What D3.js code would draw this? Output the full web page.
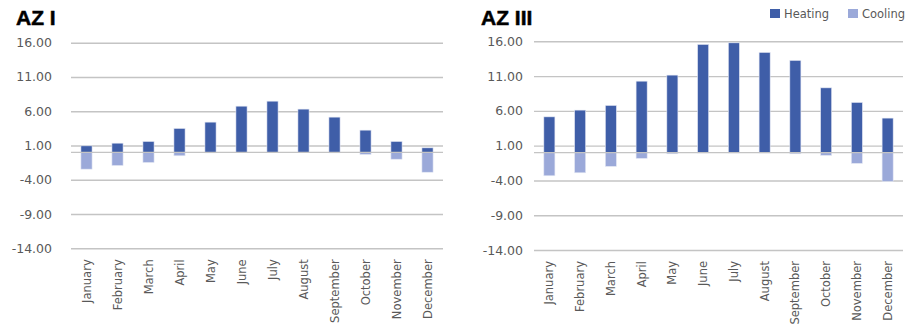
<!DOCTYPE html>
<html>
<head>
<meta charset="utf-8">
<script src="https://cdn.jsdelivr.net/npm/d3@7"></script>
<style>
  html, body { margin: 0; padding: 0; background: #fff; }
  svg { display: block; }
</style>
</head>
<body>
<svg id="chart" width="913" height="325"></svg>
<script>
// Monthly heating (positive) and cooling (negative) loads for two zones
const months = ["January", "February", "March", "April", "May", "June",
                "July", "August", "September", "October", "November", "December"];

const az1Heating = [0.95, 1.34, 1.59, 3.49, 4.41, 6.74, 7.47, 6.31, 5.14, 3.24, 1.59, 0.66];
const az1Cooling = [-2.45, -1.92, -1.48, -0.5, -0.08, -0.05, -0.05, -0.05, -0.08, -0.31, -1.0, -2.9];

const az3Heating = [5.14, 6.11, 6.78, 10.27, 11.14, 15.55, 15.78, 14.4, 13.25, 9.31, 7.21, 4.96];
const az3Cooling = [-3.33, -2.9, -1.98, -0.83, -0.17, -0.05, -0.05, -0.05, -0.17, -0.4, -1.55, -4.14];

const yTicks = [16, 11, 6, 1, -4, -9, -14];
const yDomain = [-14, 16];

const seriesNames = ["Heating", "Cooling"];
const colors = { Heating: "#3F5EA8", Cooling: "#9BA9D9" };

const textColor = "#595959";
const gridColor = "#C4C4C4";
const fontFamily = "'DejaVu Sans', Verdana, sans-serif";

// two-decimal labels with a plain hyphen for negatives
const tickFormat = d3.formatLocale({ decimal: ".", thousands: ",", grouping: [3], currency: ["", ""], minus: "-" }).format(".2f");

const svg = d3.select("#chart");

const panels = [
  { title: "AZ I", heating: az1Heating, cooling: az1Cooling,
    x0: 71, x1: 443, yTop: 42.7, yBottom: 248.3, labelX: 52, titleX: 16 },
  { title: "AZ III", heating: az3Heating, cooling: az3Cooling,
    x0: 534, x1: 903, yTop: 41.3, yBottom: 250, labelX: 523, titleX: 481 }
];

panels.forEach(p => {
  const g = svg.append("g");

  const x = d3.scaleBand().domain(months).range([p.x0, p.x1]).paddingInner(0.64).paddingOuter(0.32);
  const y = d3.scaleLinear().domain(yDomain).range([p.yBottom, p.yTop]);

  // title
  g.append("text")
    .attr("x", p.titleX).attr("y", 25)
    .attr("font-family", "'Liberation Sans', Arial, sans-serif")
    .attr("font-weight", "bold")
    .attr("font-size", 21)
    .attr("stroke", "#000").attr("stroke-width", 0.5)
    .attr("fill", "#000")
    .text(p.title);

  // gridlines and tick labels
  const yAxis = d3.axisLeft(y).tickValues(yTicks).tickFormat(tickFormat)
    .tickSize(-(p.x1 - p.x0)).tickPadding(p.x0 - p.labelX);
  const ya = g.append("g").attr("transform", `translate(${p.x0},0)`).call(yAxis);
  ya.select(".domain").remove();
  ya.selectAll(".tick line").attr("stroke", gridColor).attr("stroke-width", 1.4);
  ya.selectAll(".tick text")
    .attr("fill", textColor)
    .attr("font-family", fontFamily)
    .attr("font-size", 12.5);

  // bars
  const rows = months.map((m, i) => ({ month: m, Heating: p.heating[i], Cooling: p.cooling[i] }));
  seriesNames.forEach(s => {
    g.append("g").selectAll("rect")
      .data(rows)
      .join("rect")
      .attr("x", d => x(d.month))
      .attr("width", x.bandwidth())
      .attr("y", d => y(Math.max(0, d[s])))
      .attr("height", d => Math.abs(y(d[s]) - y(0)))
      .attr("fill", colors[s])
      .attr("stroke", "#E4E8F4")
      .attr("stroke-width", 0.6);
  });

  // zero baseline
  g.append("line")
    .attr("x1", p.x0).attr("x2", p.x1)
    .attr("y1", y(0)).attr("y2", y(0))
    .attr("stroke", gridColor).attr("stroke-width", 1.4);

  // month labels, rotated
  const xAxis = d3.axisBottom(x).tickSize(0).tickPadding(0);
  const xa = g.append("g").attr("transform", `translate(0,${p.yBottom})`).call(xAxis);
  xa.select(".domain").remove();
  xa.selectAll(".tick text")
    .attr("fill", textColor)
    .attr("font-family", fontFamily)
    .attr("font-size", 11.5)
    .attr("text-anchor", "end")
    .attr("dy", "0.35em")
    .attr("transform", "translate(0,11) rotate(-90)")
    .attr("x", 0).attr("y", 0);
});

// legend
const legend = svg.append("g");
const legendItems = [
  { name: "Heating", x: 770 },
  { name: "Cooling", x: 848 }
];
legendItems.forEach(it => {
  legend.append("rect")
    .attr("x", it.x).attr("y", 9)
    .attr("width", 10).attr("height", 9)
    .attr("fill", colors[it.name]);
  legend.append("text")
    .attr("x", it.x + 14).attr("y", 17.5)
    .attr("fill", textColor)
    .attr("font-family", fontFamily)
    .attr("font-size", 11.5)
    .text(it.name);
});
</script>
</body>
</html>
